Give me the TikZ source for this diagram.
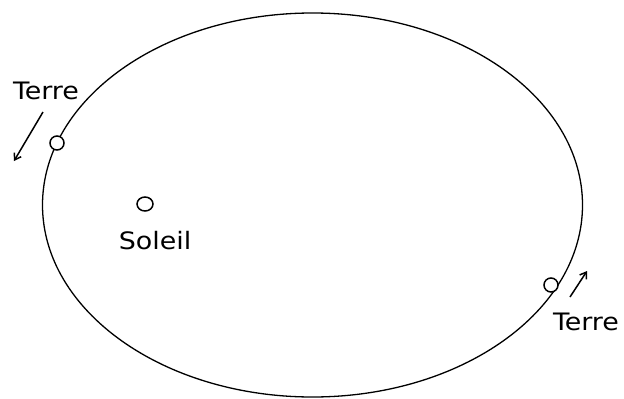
\documentclass[tikz,border=0pt]{standalone}
\usepackage{fontspec}
\setsansfont{DejaVu Sans}
\usetikzlibrary{arrows.meta,shapes.geometric}
\begin{document}
\begin{tikzpicture}[x=1pt,y=-1pt,
  orbit/.style={draw=black,line width=1.3pt},
  body/.style={draw=black,line width=1.5pt,fill=white},
  lbl/.style={font=\sffamily\fontsize{24}{24}\selectfont,inner sep=0pt,xscale=1.12},
  motion/.style={draw=black,line width=1.5pt,-{Straight Barb[length=6pt,width=8pt]}}]
\useasboundingbox (0,0) rectangle (624,399);
\draw[orbit] (312.5,205) ellipse [x radius=270, y radius=192];
\node[body,circle,minimum size=14pt,inner sep=0pt] (t1) at (57,143) {};
\node[body,ellipse,minimum width=16pt,minimum height=14pt,inner sep=0pt] (sun) at (145,204) {};
\node[body,circle,minimum size=14pt,inner sep=0pt] (t2) at (551,285) {};
\node[lbl] (l1) at (46,91) {Terre};
\node[lbl] (ls) at (155,241) {Soleil};
\node[lbl] (l2) at (586,322) {Terre};
\coordinate (a1s) at (43,112);
\coordinate (a1e) at (14,161);
\coordinate (a2s) at (570,297);
\coordinate (a2e) at (587,271);
\draw[motion] (a1s) -- (a1e);
\draw[motion] (a2s) -- (a2e);
\end{tikzpicture}
\end{document}
